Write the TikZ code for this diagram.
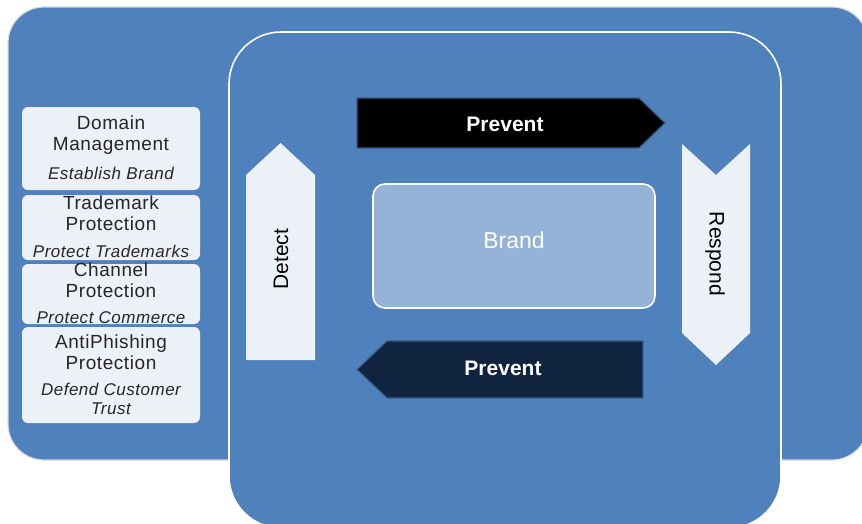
\documentclass[tikz,border=0pt]{standalone}
\usepackage{fontspec}
\setmainfont{Liberation Sans}
\newfontfamily\boxfont[LetterSpace=3]{Liberation Sans}
\usepackage{tikz}
\definecolor{panelblue}{RGB}{79,129,189}
\definecolor{palebox}{RGB}{236,240,247}
\definecolor{brandblue}{RGB}{149,179,215}
\definecolor{navyarrow}{RGB}{16,36,63}
\definecolor{edgeblue}{RGB}{56,93,138}
\tikzset{
	itembox/.style={fill=palebox, rounded corners=6pt},
	itemtitle/.style={align=center, inner sep=0pt, text=black!85, font=\boxfont\fontsize{19}{21}\selectfont},
	itemsub/.style={align=center, inner sep=0pt, text=black!85, font=\boxfont\fontsize{17}{19}\selectfont\itshape},
	flowtext/.style={inner sep=0pt, font=\fontsize{21}{24}\selectfont},
	preventtext/.style={inner sep=0pt, text=white, font=\fontsize{21}{24}\selectfont\bfseries}
}

\begin{document}
\begin{tikzpicture}[x=1pt, y=-1pt]
			%%%%% START %%%%%
			\useasboundingbox (0, 0) rectangle (862, 523);
			
			\draw[fill=panelblue, draw=black!15, line width=1.2pt, rounded corners=36pt] (8, 7) rectangle (868, 460);
			\draw[fill=panelblue, draw=white, line width=1.6pt, rounded corners=52pt] (229, 32) rectangle (781, 528);
			
			\fill[itembox] (22, 107) rectangle (200, 190);
			\fill[itembox] (22, 195) rectangle (200, 260);
			\fill[itembox] (22, 264) rectangle (200, 324);
			\fill[itembox] (22, 327) rectangle (200, 423);
			
			\node[itemtitle] (domain) at (111, 135.5) {Domain\\Management};
			\node[itemsub] (domainsub) at (111, 173) {Establish Brand};
			\node[itemtitle] (trademark) at (111, 213.5) {Trademark\\Protection};
			\node[itemsub] (trademarksub) at (111, 251) {Protect Trademarks};
			\node[itemtitle] (channel) at (111, 280.5) {Channel\\Protection};
			\node[itemsub] (channelsub) at (111, 318) {Protect Commerce};
			\node[itemtitle] (antiphishing) at (111, 352) {AntiPhishing\\Protection};
			\node[itemsub] (antiphishingsub) at (111, 398.5) {Defend Customer\\Trust};
			
			\draw[fill=black, draw=edgeblue, line width=1.2pt] (357, 98) -- (639, 98) -- (665, 123) -- (639, 148) -- (357, 148) -- cycle;
			\node[preventtext] (preventtop) at (505, 124) {Prevent};
			
			\fill[palebox] (682, 144) -- (716, 175) -- (750, 144) -- (750, 333) -- (716, 365) -- (682, 333) -- cycle;
			\node[flowtext, rotate=-90] (respond) at (715, 254) {Respond};
			
			\draw[fill=navyarrow, draw=edgeblue, line width=1.2pt] (387, 341) -- (643, 341) -- (643, 398) -- (387, 398) -- (357, 369.5) -- cycle;
			\node[preventtext] (preventbottom) at (503, 368) {Prevent};
			
			\fill[palebox] (246, 360) -- (246, 175) -- (280.5, 143) -- (315, 175) -- (315, 360) -- cycle;
			\node[flowtext, rotate=90] (detect) at (281, 259) {Detect};
			
			\draw[fill=brandblue, draw=white, line width=1.6pt, rounded corners=12pt] (373, 184) rectangle (655, 308);
			\node[inner sep=0pt, text=white, font=\fontsize{23}{26}\selectfont] (brand) at (514, 240) {Brand};
			%%%%% END %%%%%
\end{tikzpicture}
\end{document}
